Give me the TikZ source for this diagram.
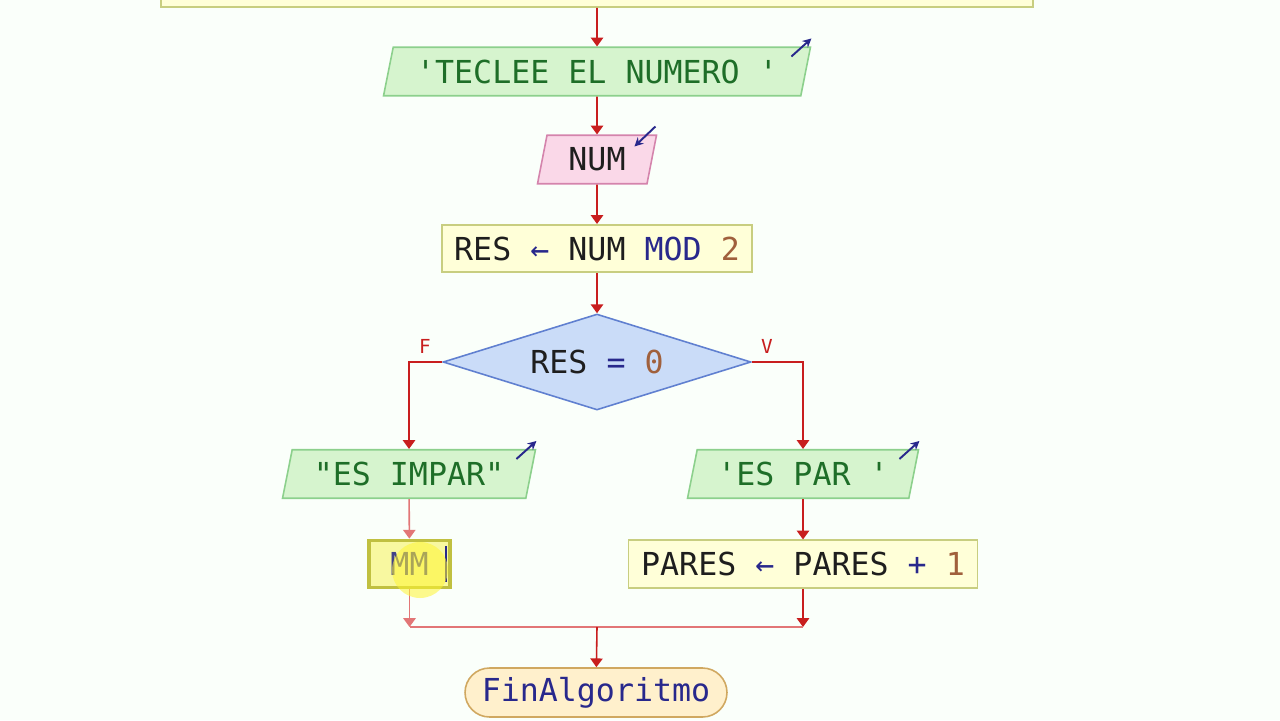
\documentclass[tikz,border=0pt]{standalone}
\usepackage{fontspec}
\setmonofont{DejaVu Sans Mono}
\usetikzlibrary{shapes.geometric,arrows.meta}

\definecolor{bgc}{RGB}{250,255,250}
\definecolor{procfill}{RGB}{255,255,216}
\definecolor{procline}{RGB}{200,206,128}
\definecolor{iofill}{RGB}{214,244,206}
\definecolor{ioline}{RGB}{140,208,140}
\definecolor{infill}{RGB}{250,216,232}
\definecolor{inline}{RGB}{212,132,172}
\definecolor{decfill}{RGB}{202,220,248}
\definecolor{decline}{RGB}{96,128,208}
\definecolor{endfill}{RGB}{255,240,204}
\definecolor{endline}{RGB}{208,168,96}
\definecolor{selfill}{RGB}{248,248,160}
\definecolor{selline}{RGB}{192,192,64}
\definecolor{flowred}{RGB}{200,30,30}
\definecolor{flowpink}{RGB}{226,118,118}
\definecolor{txtgreen}{RGB}{30,110,40}
\definecolor{txtnavy}{RGB}{40,40,140}
\definecolor{txtbrown}{RGB}{160,96,60}
\definecolor{txtdark}{RGB}{30,30,30}

\tikzset{
  procbox/.style={draw=procline, fill=procfill, line width=0.9pt, inner sep=0pt,
                  minimum height=0.95cm, text=txtdark},
  iobox/.style={trapezium, trapezium left angle=68, trapezium right angle=112,
                trapezium stretches body, draw=ioline, fill=iofill, line width=0.9pt,
                inner sep=0pt, minimum height=0.97cm, text=txtgreen},
  inbox/.style={iobox, draw=inline, fill=infill, text=txtdark},
  decbox/.style={diamond, aspect=3.2, draw=decline, fill=decfill, line width=0.9pt,
                 inner sep=0pt, text=txtdark},
  endbox/.style={draw=endline, fill=endfill, line width=0.9pt, inner sep=0pt,
                 rounded corners=0.49cm, text=txtnavy},
  flow/.style={draw=flowred, line width=0.9pt, -{Triangle[length=5pt,width=7pt]}},
  flowlite/.style={flow, draw=flowpink},
  iotip/.style={draw=txtnavy, line width=1.1pt, -{Stealth[length=5pt,width=5pt]}},
  branch/.style={text=flowred, font=\ttfamily\fontsize{11}{12}\selectfont},
}

\begin{document}
\begin{tikzpicture}[x=0.02cm, y=-0.02cm,
  every node/.append style={font=\ttfamily\fontsize{18}{20}\selectfont}]
  \fill[bgc] (0,0) rectangle (1280,720);
  \useasboundingbox (0,0) rectangle (1280,720);

  % nodes
  \node[procbox, minimum width=17.44cm, minimum height=2cm] (prev) at (597,-43) {};
  \node[iobox, minimum width=8.54cm] (tec) at (597,71.5) {'TECLEE EL NUMERO '};
  \node[inbox, minimum width=2.38cm] (num) at (597,159.5) {NUM};
  \node[procbox, minimum width=6.2cm] (res) at (597,248.5)
       {RES \textcolor{txtnavy}{←} NUM \textcolor{txtnavy}{MOD} \textcolor{txtbrown}{2}};
  \node[decbox, minimum width=6.16cm, minimum height=1.92cm] (dec) at (597,362)
       {RES \textcolor{txtnavy}{=} \textcolor{txtbrown}{0}};
  \node[iobox, minimum width=5.06cm] (impar) at (409,474) {"ES IMPAR"};
  \node[iobox, minimum width=4.62cm] (par) at (803,474) {'ES PAR '};
  \node[procbox, draw=selline, fill=selfill, line width=1.8pt, minimum width=1.62cm,
        text=txtnavy!70!gray] (mm) at (409.5,564) {MM};
  \node[procbox, minimum width=6.98cm] (pares) at (803,564)
       {PARES \textcolor{txtnavy}{←} PARES \textcolor{txtnavy}{+} \textcolor{txtbrown}{1}};
  \node[endbox, minimum width=5.24cm, minimum height=0.98cm] (fin) at (596,692.5)
       {FinAlgoritmo};
  \coordinate (j) at (597,627);

  % connectors
  \draw[flow] (prev.south -| tec) -- (tec);
  \draw[flow] (tec) -- (num);
  \draw[flow] (num) -- (res);
  \draw[flow] (res) -- (dec);
  \draw[flow] (dec.west) -| (impar);
  \draw[flow] (dec.east) -| (par);
  \draw[flowlite] (impar) -- (mm);
  \draw[flow] (par) -- (pares);
  \draw[flowlite] (mm) -- (mm |- j);
  \draw[flow] (pares) -- (pares |- j);
  \draw[flowpink, line width=0.9pt] (mm |- j) -- (pares |- j);
  \draw[flow] (j) -- (fin);
  \node[branch] (f) at (425,346) {F};
  \node[branch] (v) at (767,346) {V};

  % input / output marks
  \draw[iotip] ([shift={(-20,10)}]tec.top right corner) -- ([shift={(0,-8)}]tec.top right corner);
  \draw[iotip] ([shift={(-2,-8)}]num.top right corner) -- ([shift={(-23,12)}]num.top right corner);
  \draw[iotip] ([shift={(-20,10)}]impar.top right corner) -- ([shift={(0,-8)}]impar.top right corner);
  \draw[iotip] ([shift={(-20,10)}]par.top right corner) -- ([shift={(0,-8)}]par.top right corner);

  % editing cursor and pointer highlight
  \draw[txtnavy, line width=1.4pt] (446,546) -- (446,582);
  \fill[yellow!80!white, opacity=0.55] (420,570) circle [radius=0.56cm];
\end{tikzpicture}
\end{document}
